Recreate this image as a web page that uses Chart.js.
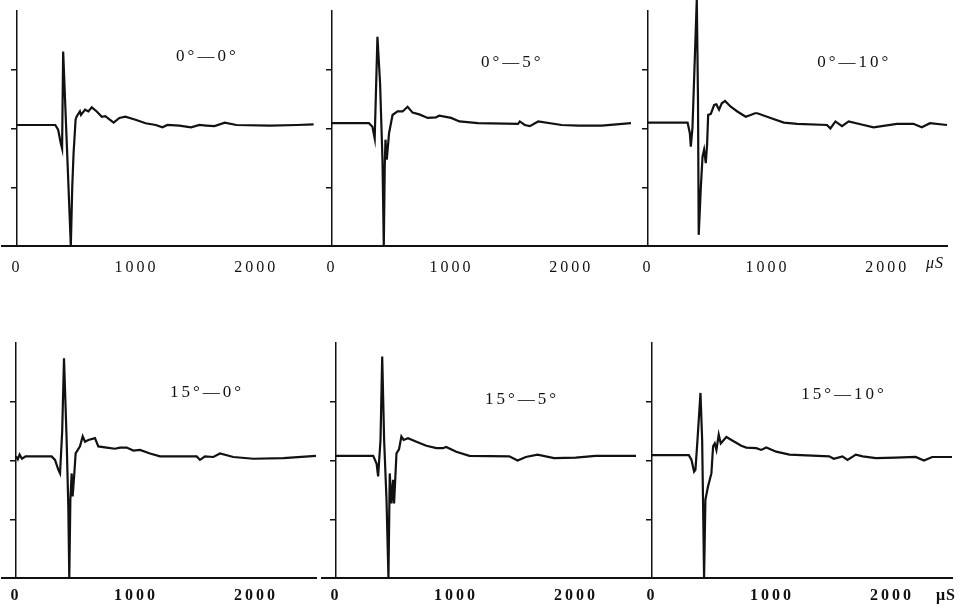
<!DOCTYPE html>
<html>
<head>
<meta charset="utf-8">
<title>Waveforms</title>
<script src="https://cdn.jsdelivr.net/npm/chart.js@4"></script>
<style>
  body { margin: 0; background: #fff; }
  #wrap { position: relative; width: 960px; height: 610px; overflow: hidden; background: #fff; }
  #wrap canvas { position: absolute; }
</style>
</head>
<body>
<div id="wrap">
  <canvas id="c00" width="325" height="285"></canvas>
  <canvas id="c05" width="325" height="285"></canvas>
  <canvas id="c010" width="325" height="285"></canvas>
  <canvas id="c150" width="325" height="285"></canvas>
  <canvas id="c155" width="325" height="285"></canvas>
  <canvas id="c1510" width="325" height="285"></canvas>
</div>
<script>
// ─── RAW WAVEFORM DATA  [time µs, amplitude] ─────────────────
const wave00 = [
  [0,2.06],[320,2.06],[344,1.98],[366,1.75],[377,1.66],[386,3.31],[414,1.86],[436,0.73],
  [450,0.0],[462,1.01],[473,1.58],[490,2.15],[498,2.2],[526,2.29],[535,2.23],[569,2.32],
  [597,2.29],[625,2.36],[667,2.29],[709,2.2],[738,2.21],[808,2.1],[856,2.18],[906,2.2],
  [991,2.15],[1075,2.09],[1160,2.06],[1216,2.02],[1258,2.06],[1357,2.05],[1455,2.02],
  [1526,2.06],[1582,2.05],[1652,2.04],[1737,2.1],[1835,2.06],[2117,2.05],[2342,2.06],[2480,2.07]
];
const wave05 = [
  [0,2.09],[309,2.09],[338,2.03],[357,1.83],[380,3.56],[402,2.77],[422,1.47],[433,0.0],
  [441,1.35],[447,1.81],[458,1.47],[477,1.92],[506,2.23],[548,2.29],[590,2.29],[632,2.37],
  [674,2.27],[730,2.24],[800,2.18],[870,2.19],[897,2.22],[996,2.18],[1066,2.12],[1220,2.09],
  [1556,2.08],[1570,2.12],[1612,2.06],[1654,2.04],[1724,2.12],[1920,2.06],[2060,2.05],
  [2256,2.05],[2500,2.09]
];
const wave010 = [
  [0,2.1],[331,2.1],[350,1.92],[358,1.69],[372,2.02],[408,4.2],[418,2.49],[424,0.19],
  [442,1.01],[456,1.52],[469,1.64],[483,1.41],[494,1.72],[503,2.23],[525,2.25],[553,2.4],
  [572,2.41],[594,2.32],[617,2.43],[644,2.47],[692,2.37],[747,2.29],[817,2.2],[858,2.23],
  [894,2.26],[914,2.26],[1025,2.18],[1136,2.1],[1247,2.08],[1497,2.06],[1525,2.0],[1567,2.12],
  [1622,2.04],[1678,2.12],[1803,2.06],[1886,2.02],[2081,2.08],[2219,2.08],[2289,2.02],
  [2358,2.09],[2500,2.06]
];
const wave150 = [
  [0,2.07],[15,2.02],[30,2.1],[50,2.03],[80,2.07],[297,2.07],[325,2.01],[353,1.84],[367,1.78],
  [385,2.5],[400,3.74],[422,2.35],[436,1.21],[444,0.0],[453,1.33],[464,1.78],[472,1.39],
  [486,1.78],[497,2.12],[533,2.24],[556,2.41],[575,2.32],[603,2.35],[658,2.38],[686,2.24],
  [756,2.22],[825,2.2],[867,2.22],[922,2.22],[978,2.17],[1033,2.18],[1117,2.12],[1200,2.07],
  [1506,2.07],[1533,2.01],[1575,2.07],[1644,2.06],[1700,2.12],[1811,2.06],[1978,2.03],
  [2228,2.04],[2500,2.08]
];
const wave155 = [
  [0,2.08],[310,2.08],[338,1.95],[351,1.73],[371,2.35],[385,3.77],[401,2.35],[421,1.33],
  [437,0.0],[448,1.78],[462,1.27],[476,1.67],[484,1.27],[504,2.12],[525,2.19],[545,2.41],
  [564,2.35],[600,2.38],[670,2.32],[753,2.25],[836,2.21],[891,2.21],[918,2.23],[1002,2.15],
  [1112,2.08],[1444,2.07],[1513,2.0],[1582,2.06],[1679,2.1],[1817,2.04],[1997,2.05],
  [2163,2.08],[2500,2.08]
];
const wave1510 = [
  [0,2.09],[307,2.09],[329,2.01],[351,1.81],[362,1.84],[379,2.35],[404,3.15],[418,2.35],
  [426,1.21],[434,0.0],[445,1.33],[467,1.56],[495,1.78],[509,2.24],[523,2.29],[537,2.18],
  [556,2.44],[573,2.29],[620,2.4],[662,2.35],[744,2.25],[786,2.22],[869,2.21],[910,2.18],
  [952,2.22],[1035,2.15],[1145,2.1],[1477,2.07],[1515,2.03],[1587,2.07],[1629,2.01],
  [1699,2.1],[1756,2.07],[1865,2.04],[2030,2.05],[2197,2.06],[2266,2.0],[2335,2.06],[2500,2.06]
];

const panelLabels = ['0°—0°', '0°—5°', '0°—10°', '15°—0°', '15°—5°', '15°—10°'];
const xTicks = [0, 1000, 2000];
const yTicks = [0, 1, 2, 3];
const xUnit = 'μS';

// ─── PANEL LAYOUT ────────────────────────────────────────────
const SERIF = '"Liberation Serif", "DejaVu Serif", serif';
const panels = [
  { id: 'c00',   data: wave00,   text: panelLabels[0], left: 1,   top: 0,   at: [1592, 3.22], bold: false, pad: 12 },
  { id: 'c05',   data: wave05,   text: panelLabels[1], left: 316, top: 0,   at: [1508, 3.13], bold: false, pad: 12 },
  { id: 'c010',  data: wave010,  text: panelLabels[2], left: 632, top: 0,   at: [1725, 3.13], bold: false, pad: 12, unitAt: 2400, unitDy: 18 },
  { id: 'c150',  data: wave150,  text: panelLabels[3], left: 1,   top: 332, at: [1592, 3.15], bold: true,  pad: 8 },
  { id: 'c155',  data: wave155,  text: panelLabels[4], left: 321, top: 332, at: [1550, 3.03], bold: true,  pad: 8 },
  { id: 'c1510', data: wave1510, text: panelLabels[5], left: 637, top: 332, at: [1600, 3.12], bold: true,  pad: 8, unitAt: 2450, unitDy: 18 },
];

// ─── PANEL TEXT (angle label + unit) ─────────────────────────
const panelText = {
    id: 'panelText',
    beforeDraw(chart) {
        chart.ctx.letterSpacing = '3px';
    },
    afterDatasetsDraw(chart, args, opts) {
        const { ctx, chartArea, scales: { x, y } } = chart;
        ctx.save();
        ctx.fillStyle = '#111';
        ctx.textAlign = 'center';
        ctx.textBaseline = 'middle';
        ctx.letterSpacing = '3px';
        ctx.font = '17px ' + SERIF;
        ctx.fillText(opts.text, x.getPixelForValue(opts.at[0]), y.getPixelForValue(opts.at[1]));
        if (opts.unitAt) {
            ctx.letterSpacing = '1px';
            ctx.font = (opts.bold ? 'bold ' : 'italic ') + '16px ' + SERIF;
            ctx.fillText(xUnit, x.getPixelForValue(opts.unitAt), chartArea.bottom + opts.unitDy);
        }
        ctx.restore();
    }
};

function makePanel(p) {
    const cv = document.getElementById(p.id);
    cv.style.left = p.left + 'px';
    cv.style.top = p.top + 'px';
    return new Chart(cv, {
        type: 'line',
        data: {
            datasets: [{
                data: p.data.map(([t, v]) => ({ x: t, y: v })),
                borderColor: '#111',
                borderWidth: 2.2,
                pointRadius: 0,
                tension: 0,
                fill: false,
                clip: false
            }]
        },
        options: {
            responsive: false,
            animation: false,
            events: [],
            layout: { padding: { top: 11, right: 10, left: 0, bottom: 0 } },
            plugins: {
                legend: { display: false },
                tooltip: { enabled: false },
                panelText: { text: p.text, at: p.at, unitAt: p.unitAt, unitDy: p.unitDy, bold: p.bold }
            },
            scales: {
                x: {
                    type: 'linear',
                    min: -125,
                    max: 2500,
                    afterBuildTicks: s => { s.ticks = xTicks.map(v => ({ value: v })); },
                    afterFit: s => { s.height = 39; },
                    grid: { display: false, drawTicks: false },
                    border: { display: true, color: '#111', width: 2 },
                    ticks: {
                        color: '#111',
                        padding: p.pad,
                        maxRotation: 0,
                        font: { family: SERIF, size: 16, weight: p.bold ? 'bold' : 'normal' },
                        callback: v => String(v)
                    }
                },
                y: {
                    type: 'linear',
                    position: { x: 0 },
                    min: 0,
                    max: 4,
                    afterBuildTicks: s => { s.ticks = yTicks.map(v => ({ value: v })); },
                    afterFit: s => { s.width = 0; },
                    grid: { drawOnChartArea: false, drawTicks: true, tickLength: 5, color: '#111', lineWidth: 1.5 },
                    border: { display: true, color: '#111', width: 1.5 },
                    ticks: { display: false }
                }
            }
        },
        plugins: [panelText]
    });
}

// ─── INIT ─────────────────────────────────────────────────────
panels.forEach(makePanel);
</script>
</body>
</html>
